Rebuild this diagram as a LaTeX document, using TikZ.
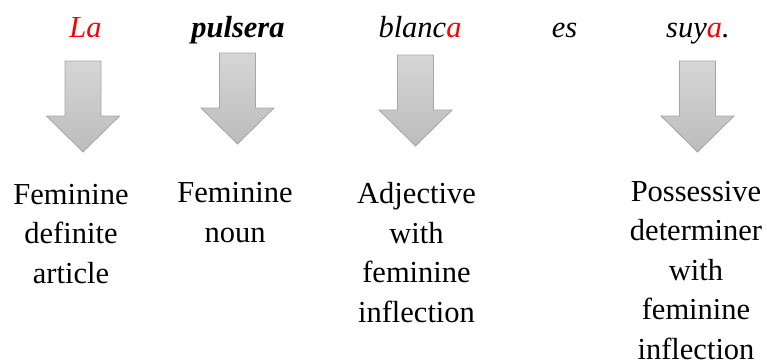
\documentclass[tikz,border=0pt]{standalone}
\usepackage{fontspec}
\setmainfont{Liberation Serif}
\definecolor{arrowtop}{RGB}{214,214,214}
\definecolor{arrowbot}{RGB}{188,188,188}
\definecolor{arrowedge}{RGB}{166,166,166}
\definecolor{infl}{RGB}{255,0,0}
\tikzset{
  word/.style={anchor=base, inner sep=0pt, font=\fontsize{30.5}{39.5}\selectfont\itshape},
  % multi-line glosses are placed by the baseline of their last line
  gloss/.style={anchor=base, inner sep=0pt, align=center, font=\fontsize{30.5}{39.5}\selectfont},
  blockarrow/.style={draw=arrowedge, line width=0.8pt, top color=arrowtop, bottom color=arrowbot, line join=miter},
}
\begin{document}
\begin{tikzpicture}[x=1pt, y=-1pt]
\useasboundingbox (0,0) rectangle (767,362);
% sentence words
\node[word] (w1) at (85.5,37) {\textcolor{infl}{La}};
\node[word] (w2) at (238,37) {\textbf{pulsera}};
\node[word] (w3) at (420,37) {blanc\textcolor{infl}{a}};
\node[word] (w4) at (564.5,37) {es};
\node[word] (w5) at (698,37) {suy\textcolor{infl}{a}.};
% block arrows: centre x, top y
\foreach \cx/\ty [count=\i] in {83/61, 237.5/53, 415.5/55, 697.5/61}{
  \draw[blockarrow] (\cx-18,\ty) -- (\cx+18,\ty) -- (\cx+18,\ty+55) -- (\cx+36.5,\ty+55)
     -- (\cx,\ty+91) -- (\cx-36.5,\ty+55) -- (\cx-18,\ty+55) -- cycle;
}
% glosses
\node[gloss] (g1) at (71,283) {Feminine\\definite\\article};
\node[gloss] (g2) at (235,242) {Feminine\\noun};
\node[gloss] (g3) at (416.5,322) {Adjective\\with\\feminine\\inflection};
\node[gloss] (g5) at (696,359) {Possessive\\determiner\\with\\feminine\\inflection};
\end{tikzpicture}
\end{document}
